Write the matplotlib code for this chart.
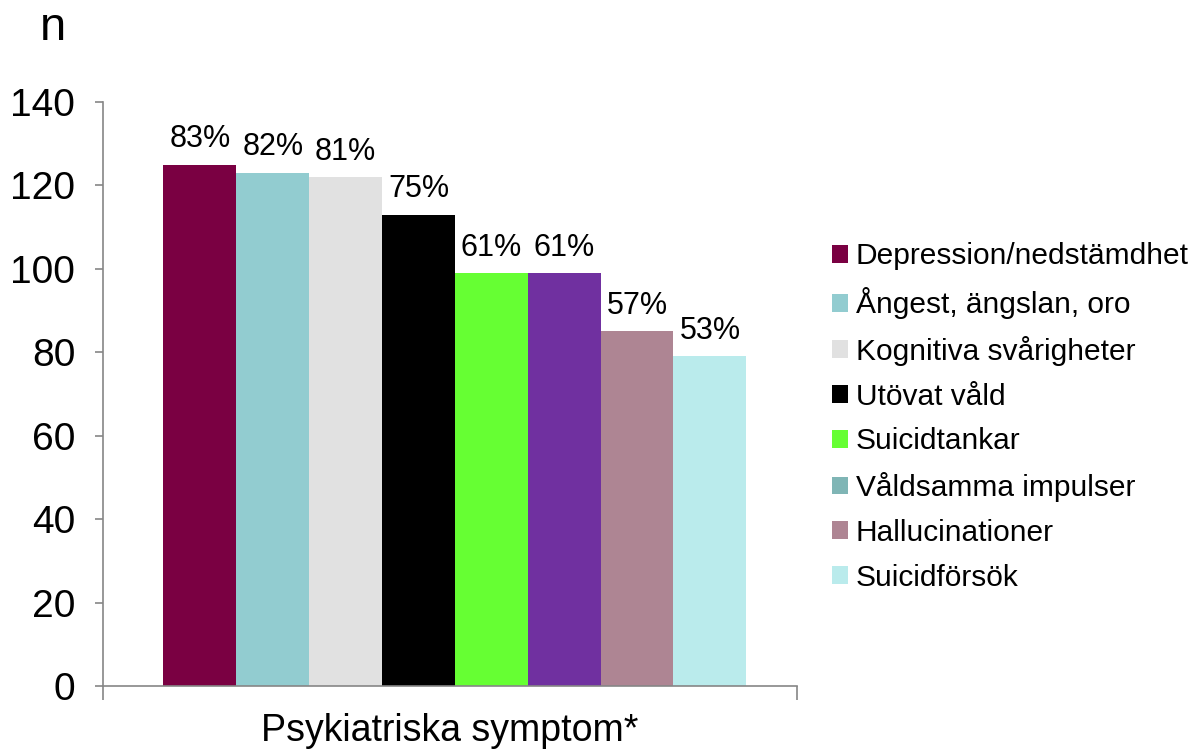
import matplotlib
matplotlib.use('Agg')
import matplotlib.pyplot as plt
from matplotlib.patches import Patch

plt.rcParams['font.family'] = ['Liberation Sans', 'DejaVu Sans']

# data
categories = ['Depression/nedstämdhet', 'Ångest, ängslan, oro', 'Kognitiva svårigheter',
              'Utövat våld', 'Suicidtankar', 'Våldsamma impulser', 'Hallucinationer',
              'Suicidförsök']
counts = [125, 123, 122, 113, 99, 99, 85, 79]
pct_labels = ['83%', '82%', '81%', '75%', '61%', '61%', '57%', '53%']
bar_colors = ['#7A0042', '#92CCD0', '#E1E1E1', '#000000', '#66FF33', '#7030A0',
              '#AE8593', '#BAEBEC']
# legend swatch for "Våldsamma impulser" differs from its bar in the original
legend_colors = ['#7A0042', '#92CCD0', '#E1E1E1', '#000000', '#66FF33', '#7FB5B5',
                 '#AE8593', '#BAEBEC']

fig = plt.figure(figsize=(11.94, 7.52), dpi=100)
ax = fig.add_axes([0.0863, 0.0878, 0.5812, 0.7766])

width = 0.105
n = len(counts)
offsets = [(i - (n - 1) / 2) * width + 0.007 for i in range(n)]
bars = ax.bar(offsets, counts, width=width, color=bar_colors)
for b, lab in zip(bars, pct_labels):
    ax.text(b.get_x() + b.get_width() / 2, b.get_height() + 2.5, lab,
            ha='center', va='bottom', fontsize=22)

ax.set_xlim(-0.5, 0.5)
ax.set_ylim(0, 140)
ax.set_yticks(range(0, 141, 20))
ax.tick_params(axis='y', labelsize=28, color='#868686', length=6, width=1.2, pad=14)
ax.set_xticks([-0.5, 0.5])
ax.set_xticklabels(['', ''])
ax.tick_params(axis='x', color='#868686', length=10, width=1.2)
for s in ['top', 'right']:
    ax.spines[s].set_visible(False)
for s in ['left', 'bottom']:
    ax.spines[s].set_color('#868686')
    ax.spines[s].set_linewidth(1.2)

ax.set_xlabel('Psykiatriska symptom*', fontsize=27, labelpad=6)
fig.text(0.033, 0.963, 'n', fontsize=34, ha='left', va='center')

handles = [Patch(facecolor=c) for c in legend_colors]
fig.legend(handles, categories, loc='center left', bbox_to_anchor=(0.697, 0.4455),
           frameon=False, fontsize=21.5, handlelength=0.54, handleheight=0.54,
           handletextpad=0.25, labelspacing=0.56, borderpad=0, borderaxespad=0)

fig.savefig('out.png', dpi=100)
